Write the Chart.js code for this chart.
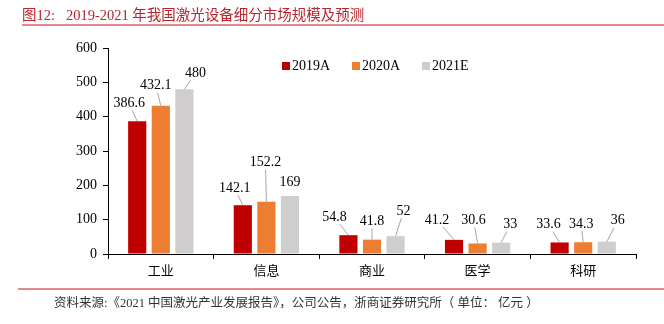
<!DOCTYPE html>
<html>
<head>
<meta charset="utf-8">
<script src="https://cdn.jsdelivr.net/npm/chart.js@4.4.0/dist/chart.umd.min.js"></script>
<style>
  body { margin: 0; background: #fff; }
  #wrap { position: relative; width: 664px; height: 324px; overflow: hidden; }
  #chart { position: absolute; left: 0; top: 0; }
  .title { position: absolute; left: 22px; top: 3px; font: 14.5px "Liberation Serif", "Noto Sans CJK SC", serif; color: #B8252E; white-space: nowrap; }
  .rule { position: absolute; left: 22px; right: 0; height: 2px; background: #E58A8E; }
  .source { position: absolute; left: 54px; top: 292px; font: 12.5px "Liberation Serif", "Noto Sans CJK SC", serif; color: #333; white-space: nowrap; }
</style>
</head>
<body>
<div id="wrap">
  <canvas id="chart" width="664" height="324"></canvas>
  <div class="title">图12:&nbsp;&nbsp;&nbsp;2019-2021 年我国激光设备细分市场规模及预测</div>
  <div class="rule" style="top:24px"></div>
  <div class="rule" style="top:288px;left:18px"></div>
  <div class="source">资料来源:《2021 中国激光产业发展报告》，公司公告，浙商证券研究所（ 单位： 亿元 ）</div>
</div>
<script>
// data
const categories = ['工业', '信息', '商业', '医学', '科研'];
const seriesNames = ['2019A', '2020A', '2021E'];
const values2019 = [386.6, 142.1, 54.8, 41.2, 33.6];
const values2020 = [432.1, 152.2, 41.8, 30.6, 34.3];
const values2021 = [480, 169, 52, 33, 36];
const yTicks = [0, 100, 200, 300, 400, 500, 600];

const colors = ['#C00000', '#ED7D31', '#CFCDCD'];

// label offsets from bar top (dx, dy), and whether a leader line is drawn
const labelOffsets = [
  [[-8, -18, true], [-8, -17, true], [-14, -18, true], [-17, -20, true], [-11, -18, true]],
  [[-5, -20, true], [-1, -39, true], [0, -18, true], [-4, -23, true], [-2, -18, true]],
  [[11, -16, true], [0, -14, false], [8, -25, true], [9, -18, true], [11, -21, true]]
];

const serif = '"Liberation Serif", "Times New Roman", serif';

const labelPlugin = {
  id: 'barLabels',
  afterDatasetsDraw(chart) {
    const ctx = chart.ctx;
    ctx.save();
    ctx.font = '14px ' + serif;
    ctx.textAlign = 'center';
    ctx.textBaseline = 'middle';
    chart.data.datasets.forEach((ds, di) => {
      const meta = chart.getDatasetMeta(di);
      meta.data.forEach((bar, i) => {
        const off = labelOffsets[di][i];
        const bx = bar.x, by = bar.y;
        const lx = bx + off[0], ly = by + off[1];
        const text = String(ds.data[i]);
        if (off[2]) {
          const hw = ctx.measureText(text).width / 2 + 1;
          const hh = 7;
          const dx = bx - lx, dy = by - ly;
          let t = 1;
          if (dx !== 0) t = Math.min(t, hw / Math.abs(dx));
          if (dy !== 0) t = Math.min(t, hh / Math.abs(dy));
          ctx.strokeStyle = '#A6A6A6';
          ctx.lineWidth = 1;
          ctx.beginPath();
          ctx.moveTo(lx + dx * t, ly + dy * t);
          ctx.lineTo(bx, by);
          ctx.stroke();
        }
        ctx.fillStyle = '#000';
        ctx.fillText(text, lx, ly);
      });
    });

    // legend row inside the plot area
    ctx.font = '14px ' + serif;
    ctx.textAlign = 'left';
    let x = chart.chartArea.left + 174;
    const y = chart.chartArea.top + 18;
    chart.data.datasets.forEach((ds) => {
      ctx.fillStyle = ds.backgroundColor;
      ctx.fillRect(x, y - 4, 8, 8);
      ctx.fillStyle = '#000';
      ctx.fillText(ds.label, x + 10, y);
      x += 70;
    });
    ctx.restore();
  }
};

new Chart(document.getElementById('chart'), {
  type: 'bar',
  data: {
    labels: categories,
    datasets: [
      { label: seriesNames[0], data: values2019, backgroundColor: colors[0] },
      { label: seriesNames[1], data: values2020, backgroundColor: colors[1] },
      { label: seriesNames[2], data: values2021, backgroundColor: colors[2] }
    ]
  },
  options: {
    responsive: false,
    animation: false,
    layout: { padding: { left: 0, right: 28, top: 48, bottom: 0 } },
    datasets: { bar: { categoryPercentage: 0.67, barPercentage: 0.77 } },
    plugins: {
      legend: { display: false },
      tooltip: { enabled: false }
    },
    scales: {
      x: {
        afterFit(scale) { scale.height = 70; },
        grid: { display: true, drawOnChartArea: false, drawTicks: true, tickLength: 5, tickColor: '#000', offset: true },
        border: { color: '#000', width: 1 },
        ticks: { color: '#000', padding: 3, font: { family: '"Noto Sans CJK SC", sans-serif', size: 13 } }
      },
      y: {
        min: 0, max: 600,
        afterFit(scale) { scale.width = 108; },
        afterBuildTicks(scale) { scale.ticks = yTicks.map(v => ({ value: v })); },
        grid: { display: true, drawOnChartArea: false, drawTicks: true, tickLength: 5, tickColor: '#000' },
        border: { color: '#000', width: 1 },
        ticks: { color: '#000', padding: 6, font: { family: serif, size: 14 } }
      }
    }
  },
  plugins: [labelPlugin]
});
</script>
</body>
</html>
